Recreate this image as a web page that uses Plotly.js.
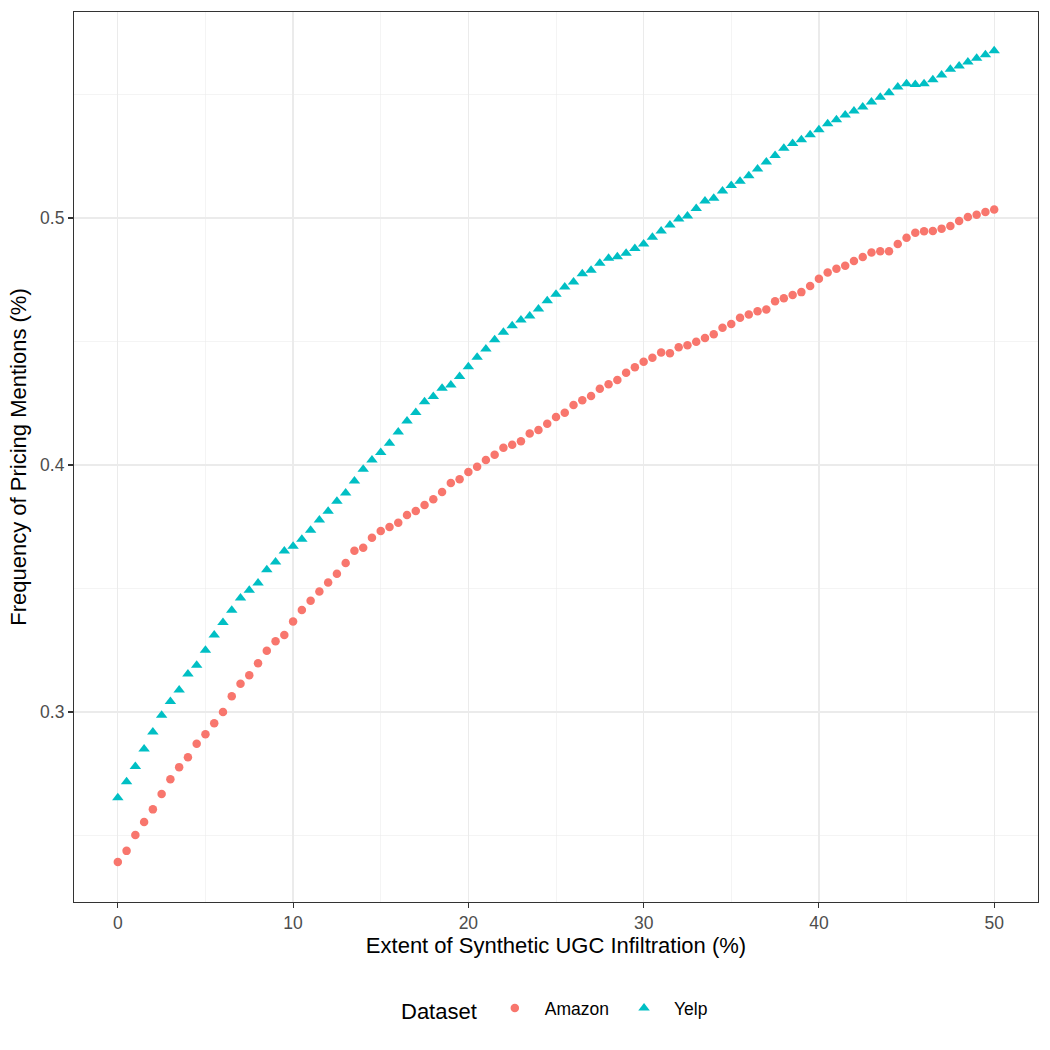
<!DOCTYPE html>
<html>
<head>
<meta charset="utf-8">
<script src="https://cdn.plot.ly/plotly-3.0.1.min.js"></script>
<style>
  html, body { margin: 0; padding: 0; background: #fff; }
  #chart { width: 1050px; height: 1050px; }
</style>
</head>
<body>
<div id="chart"></div>
<script>
// Extent of synthetic UGC infiltration (%), 0 to 50 in half steps
const infiltration = [
  0, 0.5, 1, 1.5, 2, 2.5, 3, 3.5, 4, 4.5, 5, 5.5, 6, 6.5, 7, 7.5, 8, 8.5, 9, 9.5,
  10, 10.5, 11, 11.5, 12, 12.5, 13, 13.5, 14, 14.5, 15, 15.5, 16, 16.5, 17, 17.5, 18, 18.5, 19, 19.5,
  20, 20.5, 21, 21.5, 22, 22.5, 23, 23.5, 24, 24.5, 25, 25.5, 26, 26.5, 27, 27.5, 28, 28.5, 29, 29.5,
  30, 30.5, 31, 31.5, 32, 32.5, 33, 33.5, 34, 34.5, 35, 35.5, 36, 36.5, 37, 37.5, 38, 38.5, 39, 39.5,
  40, 40.5, 41, 41.5, 42, 42.5, 43, 43.5, 44, 44.5, 45, 45.5, 46, 46.5, 47, 47.5, 48, 48.5, 49, 49.5,
  50
];

// Frequency of pricing mentions
const amazon = [
  0.2393, 0.2438, 0.2502, 0.2555, 0.2606, 0.2668, 0.2728, 0.2777, 0.2817, 0.2872,
  0.2910, 0.2955, 0.3000, 0.3064, 0.3115, 0.3149, 0.3198, 0.3248, 0.3287, 0.3312,
  0.3367, 0.3413, 0.3451, 0.3488, 0.3524, 0.3560, 0.3603, 0.3653, 0.3665, 0.3706,
  0.3733, 0.3749, 0.3766, 0.3798, 0.3814, 0.3838, 0.3861, 0.3891, 0.3927, 0.3942,
  0.3972, 0.3993, 0.4020, 0.4042, 0.4070, 0.4082, 0.4096, 0.4128, 0.4142, 0.4167,
  0.4194, 0.4212, 0.4243, 0.4262, 0.4279, 0.4309, 0.4327, 0.4344, 0.4374, 0.4396,
  0.4418, 0.4434, 0.4456, 0.4453, 0.4477, 0.4485, 0.4499, 0.4514, 0.4529, 0.4556,
  0.4571, 0.4596, 0.4609, 0.4623, 0.4630, 0.4663, 0.4675, 0.4688, 0.4700, 0.4725,
  0.4754, 0.4779, 0.4795, 0.4807, 0.4826, 0.4842, 0.4860, 0.4865, 0.4865, 0.4895,
  0.4920, 0.4940, 0.4946, 0.4947, 0.4957, 0.4968, 0.4988, 0.5004, 0.5013, 0.5024,
  0.5034
];

const yelp = [
  0.2653, 0.2718, 0.2780, 0.2850, 0.2919, 0.2987, 0.3043, 0.3089, 0.3154, 0.3189,
  0.3250, 0.3312, 0.3362, 0.3412, 0.3462, 0.3493, 0.3522, 0.3576, 0.3607, 0.3652,
  0.3671, 0.3700, 0.3736, 0.3777, 0.3813, 0.3853, 0.3887, 0.3935, 0.3983, 0.4020,
  0.4051, 0.4088, 0.4134, 0.4178, 0.4213, 0.4256, 0.4277, 0.4311, 0.4324, 0.4358,
  0.4398, 0.4436, 0.4470, 0.4507, 0.4538, 0.4564, 0.4587, 0.4603, 0.4632, 0.4665,
  0.4691, 0.4721, 0.4741, 0.4774, 0.4789, 0.4817, 0.4837, 0.4843, 0.4857, 0.4877,
  0.4895, 0.4922, 0.4947, 0.4972, 0.4996, 0.5008, 0.5039, 0.5069, 0.5080, 0.5109,
  0.5132, 0.5149, 0.5171, 0.5198, 0.5227, 0.5253, 0.5282, 0.5302, 0.5317, 0.5337,
  0.5357, 0.5382, 0.5398, 0.5417, 0.5433, 0.5449, 0.5470, 0.5489, 0.5507, 0.5530,
  0.5544, 0.5541, 0.5544, 0.5560, 0.5579, 0.5602, 0.5615, 0.5632, 0.5647, 0.5661,
  0.5677
];

const FONT = "Liberation Sans, Arial, sans-serif";
const GRID = "#EBEBEB";
const INK = "#333333";

const traces = [
  {
    name: "Amazon", x: infiltration, y: amazon,
    type: "scatter", mode: "markers",
    marker: { symbol: "circle", size: 8.5, color: "#F8766D" }
  },
  {
    name: "Yelp", x: infiltration, y: yelp,
    type: "scatter", mode: "markers",
    marker: { symbol: "triangle-up", size: 10, color: "#00BFC4" }
  }
];

// shared axis look (theme_bw-ish)
const axisBase = {
  showline: true, mirror: true, linecolor: INK, linewidth: 1.1,
  ticks: "outside", ticklen: 5, tickwidth: 1.1, tickcolor: INK,
  showgrid: true, gridcolor: GRID, gridwidth: 1.2,
  zeroline: false,
  tickfont: { family: FONT, size: 17.5, color: "#4D4D4D" }
};

const layout = {
  width: 1050, height: 1050,
  paper_bgcolor: "#FFFFFF", plot_bgcolor: "#FFFFFF",
  margin: { l: 74, r: 12, t: 12, b: 148 },
  font: { family: FONT, color: "#000" },
  xaxis: {
    ...axisBase,
    range: [-2.5, 52.5], tick0: 0, dtick: 10,
    minor: { tick0: 5, dtick: 10, showgrid: true, gridcolor: GRID, gridwidth: 0.55, ticks: "" },
    title: { text: "Extent of Synthetic UGC Infiltration (%)", font: { family: FONT, size: 22, color: "#000" }, standoff: 3 }
  },
  yaxis: {
    ...axisBase,
    range: [0.2231, 0.5834], tick0: 0.3, dtick: 0.1, tickformat: ".1f",
    minor: { tick0: 0.25, dtick: 0.1, showgrid: true, gridcolor: GRID, gridwidth: 0.55, ticks: "" },
    title: { text: "Frequency of Pricing Mentions (%)", font: { family: FONT, size: 22, color: "#000" }, standoff: 7 }
  },
  showlegend: true,
  legend: {
    orientation: "h", x: 0.5, xanchor: "center", y: -0.121, yanchor: "middle",
    font: { family: FONT, size: 17.5, color: "#000" },
    title: { text: "Dataset", font: { family: FONT, size: 22, color: "#000" }, side: "left" },
    itemwidth: 50
  }
};

Plotly.newPlot("chart", traces, layout, { displayModeBar: false, staticPlot: true });
</script>
</body>
</html>
